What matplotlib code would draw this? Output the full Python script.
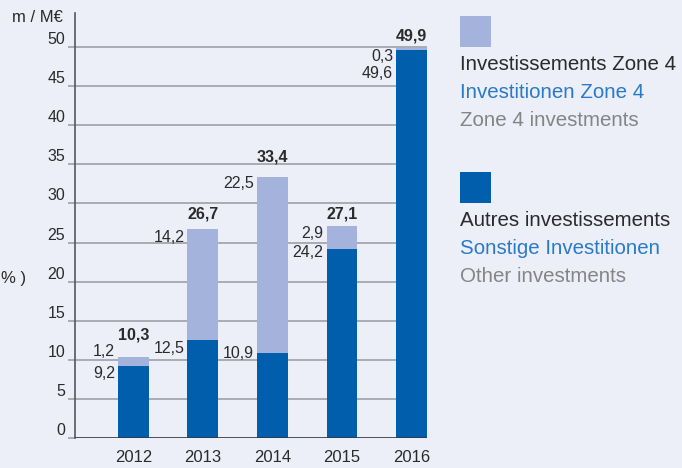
import numpy as np
import matplotlib.pyplot as plt
from matplotlib.patches import Rectangle

plt.rcParams['font.family'] = ['Liberation Sans', 'DejaVu Sans']

# data (m / M€)
years = ['2012', '2013', '2014', '2015', '2016']
other = [9.2, 12.5, 10.9, 24.2, 49.6]
zone4 = [1.2, 14.2, 22.5, 2.9, 0.3]
totals = ['10,3', '26,7', '33,4', '27,1', '49,9']
other_lab = ['9,2', '12,5', '10,9', '24,2', '49,6']
zone4_lab = ['1,2', '14,2', '22,5', '2,9', '0,3']

# label nudges in pixels (hand placed in the original)
tot_dy = [22, 15, 20, 12, 12]
z4_dy = [5, -8, -7, -7, -9]
ot_dy = [-7, -8, -1, -4, -23]

bg = '#ECEEF8'
dark = '#005EAD'
light = '#A3B3DC'
txt = '#2B2B2B'

W, H = 682, 468
fig = plt.figure(figsize=(W / 100, H / 100), dpi=100, facecolor=bg)
ax = fig.add_axes([75 / W, 1 - 438 / H, (427 - 75) / W, (438 - 13) / H])
ax.set_facecolor(bg)

x = np.arange(len(years))
w = 0.445
ax.bar(x, other, w, color=dark, zorder=2)
ax.bar(x, zone4, w, bottom=other, color=light, zorder=2)
ax.axhline(0, color='#33343F', lw=1.8, zorder=4)

ax.set_xlim(-0.84, 4 + w / 2)
ax.set_ylim(0, 54.35)
ax.set_yticks(range(0, 51, 5))
ax.yaxis.grid(True, color='#A4A5AE', lw=1.3)
ax.set_axisbelow(True)
ax.tick_params(axis='y', length=5, width=1.3, color='#A4A5AE', labelsize=11.5,
               labelcolor=txt, pad=2)
for lab in ax.get_yticklabels():
    lab.set_va('bottom')
ax.set_xticks(x)
ax.set_xticklabels(years)
ax.tick_params(axis='x', length=0, labelsize=12, labelcolor=txt, pad=9)
for s in ['top', 'right', 'bottom']:
    ax.spines[s].set_visible(False)
ax.spines['left'].set_color('#55565F')
ax.spines['left'].set_linewidth(1.2)

for i in range(len(years)):
    top = other[i] + zone4[i]
    ax.annotate(totals[i], (x[i], top), xytext=(0, tot_dy[i]), textcoords='offset pixels',
                ha='center', va='center', fontsize=11.5, fontweight='bold', color=txt)
    ax.annotate(zone4_lab[i], (x[i] - w / 2, top), xytext=(-3, z4_dy[i]),
                textcoords='offset pixels', ha='right', va='center', fontsize=11.5, color=txt)
    ax.annotate(other_lab[i], (x[i] - w / 2, other[i]), xytext=(-3, ot_dy[i]),
                textcoords='offset pixels', ha='right', va='center', fontsize=11.5, color=txt)

fig.text(63 / W, 1 - 18 / H, 'm / M€', ha='right', va='center', fontsize=12, color=txt)
fig.text(1 / W, 1 - 278 / H, '% )', ha='left', va='center', fontsize=12, color=txt)

# legend
leg = [(light, 16, ['Investissements Zone 4', 'Investitionen Zone 4', 'Zone 4 investments']),
       (dark, 172, ['Autres investissements', 'Sonstige Investitionen', 'Other investments'])]
cols = ['#2B2B2B', '#2A7AC6', '#858585']
for c, y0, lines in leg:
    fig.add_artist(Rectangle((460 / W, 1 - (y0 + 31) / H), 31 / W, 31 / H,
                             transform=fig.transFigure, color=c, lw=0))
    for k, t in enumerate(lines):
        fig.text(460 / W, 1 - (y0 + 49 + 28 * k) / H, t, ha='left', va='center',
                 fontsize=14.8, color=cols[k])

fig.savefig('out.png', dpi=100, facecolor=bg)
